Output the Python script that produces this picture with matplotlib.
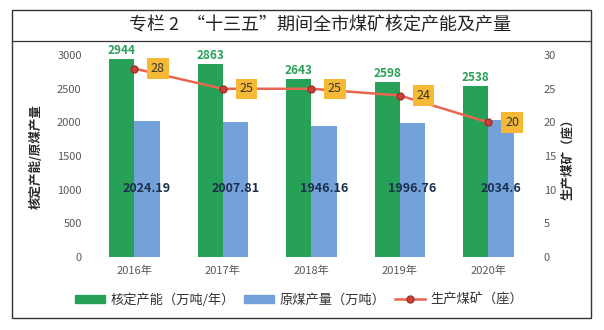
import numpy as np
import matplotlib.pyplot as plt
from matplotlib.patches import Rectangle, Patch
from matplotlib.lines import Line2D

plt.rcParams['font.family'] = ['Noto Sans CJK SC', 'DejaVu Sans']

# 数据
anios = ['2016年', '2017年', '2018年', '2019年', '2020年']
capacidad = [2944, 2863, 2643, 2598, 2538]          # 核定产能（万吨/年）
produccion = [2024.19, 2007.81, 1946.16, 1996.76, 2034.6]  # 原煤产量（万吨）
minas = [28, 25, 25, 24, 20]                        # 生产煤矿（座）
etiquetas_prod = ['2024.19', '2007.81', '1946.16', '1996.76', '2034.6']

verde = '#27a158'
azul = '#73a2db'
rojo = '#e8654f'
naranja = '#f5b935'
gris = '#595959'

fig = plt.figure(figsize=(6.04, 3.30), dpi=100)

# marco y título
fig.patches.append(Rectangle((0.020, 0.036), 0.958, 0.934, transform=fig.transFigure,
                             fill=False, ec='#333333', lw=1.0))
fig.lines.append(Line2D([0.020, 0.978], [0.876, 0.876], transform=fig.transFigure,
                        color='#333333', lw=0.9))
fig.text(0.53, 0.922, '专栏 2  “十三五”期间全市煤矿核定产能及产量', ha='center', va='center',
         fontsize=13, color='#222222')

ax = fig.add_axes([0.149, 0.221, 0.733, 0.612])
x = np.arange(len(anios))
w = 0.285

ax.bar(x - w / 2, capacidad, w, color=verde)
ax.bar(x + w / 2, produccion, w, color=azul)

for i in range(len(anios)):
    ax.text(x[i] - w / 2, capacidad[i] + 30, str(capacidad[i]), ha='center', va='bottom',
            fontsize=8.5, fontweight='bold', color=verde, clip_on=False)
    ax.text(x[i] + w / 2, 1025, etiquetas_prod[i], ha='center', va='center',
            fontsize=9, fontweight='bold', color='#1c2f4f')

ax.set_ylim(0, 3000)
ax.set_yticks(range(0, 3001, 500))
ax.set_xlim(-0.5, len(anios) - 0.5)
ax.set_xticks(x)
ax.set_xticklabels(anios)
ax.tick_params(length=0, labelsize=8, colors=gris, pad=6)
for s in ax.spines.values():
    s.set_visible(False)
ax.set_ylabel('核定产能/原煤产量', fontsize=9, fontweight='bold', color='#2a2a2a', labelpad=10)

ax2 = ax.twinx()
ax2.plot(x, minas, color=rojo, lw=1.8, marker='o', markersize=5,
         markerfacecolor='#c8423a', markeredgecolor='#a0302a', zorder=3)
for i in range(len(anios)):
    ax2.annotate(str(minas[i]), (x[i], minas[i]), xytext=(17, 0), textcoords='offset points',
                 ha='center', va='center', fontsize=9, color='#333333',
                 bbox=dict(boxstyle='square,pad=0.3', fc=naranja, ec='none'))
ax2.set_ylim(0, 30)
ax2.set_yticks(range(0, 31, 5))
ax2.tick_params(length=0, labelsize=8, colors=gris, pad=8)
for s in ax2.spines.values():
    s.set_visible(False)
ax2.set_ylabel('生产煤矿（座）', fontsize=9, fontweight='bold', color='#2a2a2a',
               rotation=90, labelpad=4)

# leyenda
handles = [Patch(color=verde), Patch(color=azul),
           Line2D([], [], color=rojo, lw=1.8, marker='o', markersize=5,
                  markerfacecolor='#c8423a', markeredgecolor='#a0302a')]
nombres = ['核定产能（万吨/年）', '原煤产量（万吨）', '生产煤矿（座）']
fig.legend(handles, nombres, loc='center', bbox_to_anchor=(0.495, 0.091), ncol=3,
           frameon=False, fontsize=9.5, handlelength=2.3, handleheight=0.6,
           columnspacing=0.7, handletextpad=0.4, labelcolor='#333333')

fig.savefig('out.png', dpi=100)
